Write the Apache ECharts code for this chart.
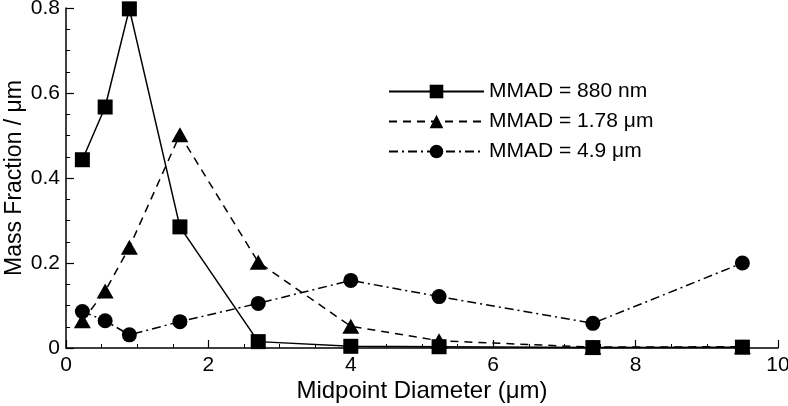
<!DOCTYPE html>
<html>
<head>
<meta charset="utf-8">
<script src="https://cdn.jsdelivr.net/npm/echarts@6/dist/echarts.min.js"></script>
<style>
    html, body { margin: 0; padding: 0; background: #fff; }
    #main { width: 788px; height: 406px; }
</style>
</head>
<body>
<div id="main"></div>
<script>
// midpoint diameters (um)
var diam = [0.23, 0.55, 0.89, 1.6, 2.7, 4.0, 5.24, 7.4, 9.5];
var mmad880 = [0.443, 0.567, 0.798, 0.285, 0.015, 0.004, 0.003, 0.001, 0.002];
var mmad178 = [0.064, 0.134, 0.237, 0.502, 0.202, 0.051, 0.017, 0.002, 0.003];
var mmad49 = [0.086, 0.064, 0.031, 0.062, 0.105, 0.159, 0.121, 0.058, 0.200];
var names = ['MMAD = 880 nm', 'MMAD = 1.78 \u03bcm', 'MMAD = 4.9 \u03bcm'];

function pairs(ys) {
    return diam.map(function (d, i) { return [d, ys[i]]; });
}

var font = 'Liberation Sans, Arial, sans-serif';
var chart = echarts.init(document.getElementById('main'));

var option = {
    backgroundColor: '#fff',
    animation: false,
    grid: { left: 66, right: 10, top: 8, bottom: 58, containLabel: false, outerBoundsMode: 'none' },
    legend: {
        orient: 'vertical',
        left: 383,
        top: 76,
        itemWidth: 95,
        itemHeight: 17,
        itemGap: 9,
        data: names,
        textStyle: { fontFamily: font, fontSize: 21, color: '#000' }
    },
    xAxis: {
        type: 'value',
        min: 0, max: 10, interval: 2,
        name: 'Midpoint Diameter (\u03bcm)',
        nameLocation: 'middle',
        nameGap: 31,
        nameMoveOverlap: false,
        nameTextStyle: { fontFamily: font, fontSize: 24, color: '#000' },
        axisLine: { lineStyle: { color: '#000', width: 1.5 } },
        axisTick: { inside: true, length: 8, lineStyle: { color: '#000', width: 1.2 } },
        minorTick: { show: true, splitNumber: 4, length: 4, lineStyle: { color: '#000', width: 1 } },
        axisLabel: { fontFamily: font, fontSize: 21, color: '#000', margin: 7 },
        splitLine: { show: false }
    },
    yAxis: {
        type: 'value',
        min: 0, max: 0.8, interval: 0.2,
        name: 'Mass Fraction / \u03bcm',
        nameLocation: 'middle',
        nameGap: 40,
        nameMoveOverlap: false,
        nameTextStyle: { fontFamily: font, fontSize: 23, color: '#000' },
        axisLine: { show: true, lineStyle: { color: '#000', width: 1.5 } },
        axisTick: { show: true, inside: true, length: 8, lineStyle: { color: '#000', width: 1.2 } },
        minorTick: { show: true, splitNumber: 4, length: 4, lineStyle: { color: '#000', width: 1 } },
        axisLabel: { fontFamily: font, fontSize: 21, color: '#000', margin: 6 },
        splitLine: { show: false }
    },
    series: [
        {
            name: names[0], type: 'line', data: pairs(mmad880),
            symbol: 'rect', symbolSize: 15, clip: false,
            itemStyle: { color: '#000' },
            lineStyle: { color: '#000', width: 1.5, type: 'solid' }
        },
        {
            name: names[1], type: 'line', data: pairs(mmad178),
            symbol: 'triangle', symbolSize: [17, 15], clip: false,
            itemStyle: { color: '#000' },
            lineStyle: { color: '#000', width: 1.5, type: [8, 6] }
        },
        {
            name: names[2], type: 'line', data: pairs(mmad49),
            symbol: 'circle', symbolSize: 15, clip: false,
            itemStyle: { color: '#000' },
            lineStyle: { color: '#000', width: 1.5, type: [9, 4, 2, 4] }
        }
    ]
};
chart.setOption(option);
</script>
</body>
</html>
